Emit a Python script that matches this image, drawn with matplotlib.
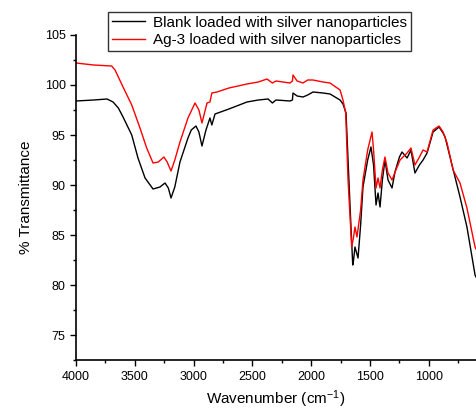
"""
Draws the FTIR transmittance spectra of the blank and Ag-3 samples loaded
with silver nanoparticles.
"""
import matplotlib
matplotlib.use("Agg")
from matplotlib.ticker import MultipleLocator
import matplotlib.pyplot as plt

plt.rcParams['font.family'] = ['Liberation Sans', 'DejaVu Sans']
plt.rcParams['mathtext.default'] = 'regular'

BLANK_WAVENUMBERS = [4000, 3850, 3736, 3685, 3640, 3600, 3526, 3473, 3413,
                     3345, 3286, 3243, 3215, 3192, 3160, 3116, 3048, 3020,
                     2980, 2955, 2929, 2895, 2861, 2845, 2818, 2700, 2546,
                     2450, 2367, 2330, 2300, 2180, 2160, 2155, 2120, 2070,
                     2030, 1985, 1900, 1840, 1755, 1730, 1704, 1687, 1662,
                     1647, 1640, 1628, 1602, 1580, 1560, 1520, 1492, 1470,
                     1449, 1432, 1415, 1395, 1373, 1347, 1313, 1288, 1250,
                     1228, 1185, 1152, 1118, 1080, 1049, 1015, 964, 913, 879,
                     862, 803, 735, 676, 607, 599]
BLANK_TRANSMITTANCE = [98.4, 98.5, 98.6, 98.3, 97.7, 96.8, 95.0, 92.7, 90.7,
                       89.6, 89.8, 90.2, 89.7, 88.7, 89.8, 92.3, 94.7, 95.5,
                       95.9, 95.3, 93.9, 95.5, 96.7, 96.0, 97.1, 97.6, 98.3,
                       98.5, 98.6, 98.2, 98.5, 98.4, 98.5, 99.2, 98.9, 98.8,
                       99.0, 99.3, 99.2, 99.1, 98.5, 98.1, 97.2, 92.5, 85.8,
                       82.0, 82.5, 83.8, 82.7, 86.0, 89.8, 92.5, 93.8, 92.0,
                       88.0, 89.2, 87.8, 90.5, 92.5, 90.5, 89.7, 91.3, 92.8,
                       93.3, 92.7, 93.5, 91.2, 92.0, 92.5, 93.2, 95.3, 95.8,
                       95.2, 94.8, 92.0, 88.8, 85.8, 81.0, 80.8]

AG3_WAVENUMBERS = [4000, 3850, 3697, 3668, 3600, 3526, 3456, 3399, 3345,
                   3300, 3252, 3225, 3192, 3160, 3116, 3048, 2988, 2955,
                   2929, 2886, 2861, 2845, 2801, 2700, 2546, 2450, 2376,
                   2330, 2300, 2180, 2160, 2155, 2120, 2070, 2030, 1985,
                   1900, 1840, 1755, 1730, 1707, 1687, 1656, 1640, 1628,
                   1611, 1580, 1560, 1520, 1483, 1470, 1449, 1432, 1415,
                   1395, 1373, 1347, 1313, 1280, 1245, 1185, 1152, 1118,
                   1080, 1049, 1015, 964, 913, 879, 845, 794, 735, 676, 607,
                   599]
AG3_TRANSMITTANCE = [102.2, 102.0, 101.9, 101.5, 99.8, 98.0, 95.7, 93.7, 92.2,
                     92.3, 92.8, 92.3, 91.4, 92.5, 94.3, 96.7, 98.2, 97.5,
                     96.2, 98.2, 98.3, 99.2, 99.3, 99.7, 100.1, 100.3, 100.6,
                     100.2, 100.4, 100.2, 100.4, 101.0, 100.4, 100.2, 100.5,
                     100.5, 100.3, 100.2, 99.5, 98.5, 97.2, 90.5, 83.8, 84.8,
                     85.8, 84.8, 87.5, 90.5, 93.5, 95.3, 93.5, 89.7, 90.7,
                     89.7, 91.5, 92.8, 91.2, 90.5, 91.5, 92.5, 93.2, 93.7,
                     92.0, 92.8, 93.5, 93.3, 95.5, 95.9, 95.3, 94.2, 91.5,
                     90.2, 87.7, 83.8, 83.6]

LABELS = ['Blank loaded with silver nanoparticles',
          'Ag-3 loaded with silver nanoparticles']


def draw_spectra():
  """Draws both spectra with Origin-like axes (left and bottom spines only)."""
  figure = plt.figure(figsize=(4.76, 4.11), dpi=100)
  axs = figure.add_axes([76 / 476., 51 / 411., 400 / 476., 325 / 411.])

  axs.plot(BLANK_WAVENUMBERS, BLANK_TRANSMITTANCE, color='black',
           linewidth=1.0, label=LABELS[0])
  axs.plot(AG3_WAVENUMBERS, AG3_TRANSMITTANCE, color='red',
           linewidth=1.0, label=LABELS[1])

  axs.set_xlim(4000, 599)
  axs.set_ylim(72.5, 105)
  axs.xaxis.set_major_locator(MultipleLocator(500))
  axs.xaxis.set_minor_locator(MultipleLocator(250))
  axs.yaxis.set_major_locator(MultipleLocator(5))
  axs.yaxis.set_minor_locator(MultipleLocator(2.5))

  for side in ['top', 'right']:
    axs.spines[side].set_visible(False)
  for side in ['left', 'bottom']:
    axs.spines[side].set_linewidth(1.2)

  axs.tick_params(which='major', direction='out', length=4, width=1.0,
                  labelsize=9, colors='black')
  axs.tick_params(which='minor', direction='out', length=2.5, width=1.0)
  axs.tick_params(axis='x', pad=4)

  axs.set_xlabel('Wavenumber (cm$^{-1}$)', fontsize=11, labelpad=4)
  axs.set_ylabel('% Transmittance', fontsize=11, labelpad=8)

  legend = axs.legend(loc='upper left',
                      bbox_to_anchor=(108 / 476., 1 - 12 / 411.),
                      bbox_transform=figure.transFigure,
                      fontsize=11, frameon=True, fancybox=False,
                      edgecolor='black', borderaxespad=0, borderpad=0.25,
                      handlelength=2.2, handletextpad=0.5, labelspacing=0.2)
  legend.get_frame().set_linewidth(1.0)

  plt.savefig('out.png', dpi=100)
  plt.close()


draw_spectra()
